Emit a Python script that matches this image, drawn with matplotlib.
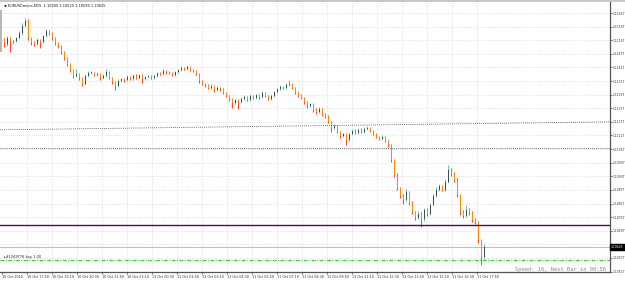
import matplotlib
matplotlib.use("Agg")
import matplotlib.pyplot as plt
from matplotlib.patches import Rectangle
import numpy as np


SYMBOL_HEADER = "EURUSDmicro,M15  1.10605 1.10620 1.10599 1.10625"

FIRST_OPEN = 1.11547
CLOSES = [
    1.11538, 1.11520, 1.11547, 1.11529, 1.11534, 1.11547, 1.11569, 1.11600, 1.11622, 1.11547,
    1.11529, 1.11520, 1.11538, 1.11529, 1.11556, 1.11578, 1.11569, 1.11547, 1.11525, 1.11512,
    1.11485, 1.11459, 1.11432, 1.11406, 1.11380, 1.11388, 1.11371, 1.11344, 1.11380, 1.11393,
    1.11393, 1.11384, 1.11388, 1.11371, 1.11380, 1.11397, 1.11371, 1.11353, 1.11336, 1.11358,
    1.11366, 1.11362, 1.11375, 1.11366, 1.11380, 1.11371, 1.11384, 1.11366, 1.11375, 1.11380,
    1.11371, 1.11380, 1.11393, 1.11388, 1.11402, 1.11397, 1.11393, 1.11384, 1.11397, 1.11406,
    1.11415, 1.11410, 1.11419, 1.11406, 1.11402, 1.11388, 1.11358, 1.11344, 1.11340, 1.11327,
    1.11336, 1.11318, 1.11327, 1.11322, 1.11305, 1.11292, 1.11278, 1.11261, 1.11274, 1.11265,
    1.11278, 1.11287, 1.11274, 1.11292, 1.11283, 1.11296, 1.11287, 1.11305, 1.11292, 1.11278,
    1.11292, 1.11309, 1.11322, 1.11331, 1.11327, 1.11340, 1.11344, 1.11327, 1.11309, 1.11296,
    1.11283, 1.11265, 1.11248, 1.11256, 1.11230, 1.11221, 1.11234, 1.11212, 1.11204, 1.11177,
    1.11151, 1.11160, 1.11133, 1.11116, 1.11124, 1.11098, 1.11124, 1.11138, 1.11129, 1.11142,
    1.11133, 1.11146, 1.11151, 1.11138, 1.11124, 1.11111, 1.11102, 1.11111, 1.11094, 1.11076,
    1.11010, 1.10944, 1.10887, 1.10852, 1.10834, 1.10869, 1.10821, 1.10781, 1.10755, 1.10772,
    1.10750, 1.10790, 1.10772, 1.10812, 1.10852, 1.10878, 1.10896, 1.10878, 1.10913, 1.10966,
    1.10948, 1.10922, 1.10856, 1.10781, 1.10764, 1.10790, 1.10777, 1.10746, 1.10737, 1.10658,
    1.10579, 1.10625,
]
HIGHS = [
    1.11560, 1.11545, 1.11556, 1.11552, 1.11540, 1.11552, 1.11578, 1.11612, 1.11635, 1.11630,
    1.11552, 1.11534, 1.11545, 1.11543, 1.11562, 1.11585, 1.11582, 1.11572, 1.11550, 1.11530,
    1.11516, 1.11490, 1.11463, 1.11437, 1.11410, 1.11410, 1.11392, 1.11375, 1.11388, 1.11402,
    1.11400, 1.11397, 1.11395, 1.11391, 1.11386, 1.11410, 1.11400, 1.11375, 1.11358, 1.11364,
    1.11372, 1.11370, 1.11382, 1.11380, 1.11386, 1.11390, 1.11390, 1.11388, 1.11380, 1.11385,
    1.11384, 1.11386, 1.11398, 1.11397, 1.11410, 1.11406, 1.11402, 1.11396, 1.11402, 1.11412,
    1.11422, 1.11420, 1.11426, 1.11423, 1.11410, 1.11406, 1.11392, 1.11362, 1.11350, 1.11344,
    1.11342, 1.11340, 1.11334, 1.11330, 1.11326, 1.11310, 1.11296, 1.11282, 1.11280, 1.11278,
    1.11285, 1.11294, 1.11290, 1.11298, 1.11296, 1.11302, 1.11300, 1.11312, 1.11308, 1.11296,
    1.11298, 1.11314, 1.11328, 1.11338, 1.11336, 1.11348, 1.11360, 1.11348, 1.11330, 1.11312,
    1.11300, 1.11287, 1.11270, 1.11262, 1.11260, 1.11236, 1.11242, 1.11238, 1.11218, 1.11208,
    1.11182, 1.11166, 1.11164, 1.11138, 1.11130, 1.11128, 1.11130, 1.11144, 1.11146, 1.11150,
    1.11148, 1.11155, 1.11160, 1.11155, 1.11142, 1.11128, 1.11116, 1.11118, 1.11115, 1.11098,
    1.11080, 1.11015, 1.10950, 1.10892, 1.10858, 1.10882, 1.10874, 1.10826, 1.10786, 1.10785,
    1.10778, 1.10798, 1.10796, 1.10820, 1.10860, 1.10890, 1.10904, 1.10900, 1.10925, 1.10988,
    1.10972, 1.10955, 1.10928, 1.10860, 1.10790, 1.10810, 1.10796, 1.10782, 1.10752, 1.10740,
    1.10662, 1.10640,
]
LOWS = [
    1.11520, 1.11505, 1.11512, 1.11485, 1.11520, 1.11528, 1.11542, 1.11562, 1.11594, 1.11538,
    1.11516, 1.11512, 1.11514, 1.11503, 1.11524, 1.11550, 1.11560, 1.11540, 1.11518, 1.11503,
    1.11478, 1.11450, 1.11425, 1.11398, 1.11371, 1.11375, 1.11362, 1.11335, 1.11340, 1.11375,
    1.11386, 1.11378, 1.11378, 1.11360, 1.11366, 1.11375, 1.11366, 1.11345, 1.11318, 1.11330,
    1.11352, 1.11355, 1.11358, 1.11360, 1.11362, 1.11366, 1.11366, 1.11350, 1.11360, 1.11370,
    1.11366, 1.11366, 1.11376, 1.11382, 1.11384, 1.11390, 1.11386, 1.11378, 1.11380, 1.11392,
    1.11400, 1.11404, 1.11405, 1.11400, 1.11396, 1.11382, 1.11350, 1.11338, 1.11332, 1.11320,
    1.11322, 1.11310, 1.11312, 1.11315, 1.11298, 1.11285, 1.11270, 1.11240, 1.11255, 1.11235,
    1.11260, 1.11272, 1.11268, 1.11270, 1.11276, 1.11278, 1.11280, 1.11283, 1.11286, 1.11272,
    1.11274, 1.11288, 1.11304, 1.11318, 1.11320, 1.11322, 1.11336, 1.11320, 1.11302, 1.11288,
    1.11276, 1.11256, 1.11240, 1.11243, 1.11222, 1.11212, 1.11216, 1.11204, 1.11195, 1.11170,
    1.11134, 1.11145, 1.11126, 1.11108, 1.11110, 1.11076, 1.11094, 1.11120, 1.11122, 1.11125,
    1.11126, 1.11128, 1.11140, 1.11132, 1.11118, 1.11104, 1.11095, 1.11098, 1.11088, 1.11068,
    1.11000, 1.10935, 1.10878, 1.10840, 1.10815, 1.10828, 1.10812, 1.10772, 1.10745, 1.10748,
    1.10715, 1.10742, 1.10760, 1.10765, 1.10805, 1.10845, 1.10870, 1.10870, 1.10872, 1.10908,
    1.10940, 1.10910, 1.10845, 1.10768, 1.10755, 1.10758, 1.10768, 1.10735, 1.10728, 1.10645,
    1.10548, 1.10572,
]

PRICE_TICKS = [
    1.11657, 1.11597, 1.11537, 1.11477, 1.11417, 1.11357, 1.11297, 1.11237, 1.11177, 1.11117,
    1.11057, 1.10997, 1.10937, 1.10877, 1.10817, 1.10757, 1.10697, 1.10637, 1.10577, 1.10517,
]
TIME_LABELS = [
    "10 Oct 2016", "10 Oct 17:50", "10 Oct 19:10", "10 Oct 20:30", "10 Oct 21:50",
    "10 Oct 23:10", "11 Oct 00:30", "11 Oct 01:50", "11 Oct 03:10", "11 Oct 04:30",
    "11 Oct 05:50", "11 Oct 07:10", "11 Oct 08:30", "11 Oct 09:50", "11 Oct 11:10",
    "11 Oct 12:30", "11 Oct 13:50", "11 Oct 15:10", "11 Oct 16:30", "11 Oct 17:50",
]

TREND_LINE = (1.11142, 1.11177)
DOTTED_LEVEL = 1.11063
PURPLE_LEVEL = 1.10724
BUY_PRICE = 1.10570
ORDER_LABEL = "#1269776 buy 1.00"
STATUS_TEXT = "Speed: 16, Next Bar in 00:56"


def main() -> None:
    W, H = 625, 281
    fig = plt.figure(figsize=(W / 100, H / 100), dpi=100)
    ax = fig.add_axes([0, 9 / H, 610 / W, 271 / H])
    ax.set_facecolor("white")

    closes = np.array(CLOSES)
    opens = np.concatenate([[FIRST_OPEN], closes[:-1]])
    highs = np.array(HIGHS)
    lows = np.array(LOWS)
    x = np.arange(len(closes))
    up = closes >= opens
    bid = closes[-1]

    # bar spacing is 3 px; 610 px of plot width
    xmax = 610 / 3 - 0.5
    ax.set_xlim(-0.5, xmax)
    ax.set_ylim(1.10515, 1.11710)

    # grid, as in MT4: dotted light gray at tick positions
    tick_x = 0.17 + np.arange(len(TIME_LABELS)) * 25 / 3
    for tx in tick_x[1:]:
        ax.axvline(tx, color="#c8c8c8", lw=0.5, ls=(0, (1, 2)), zorder=0)
    for ty in PRICE_TICKS:
        ax.axhline(ty, color="#c8c8c8", lw=0.5, ls=(0, (1, 2)), zorder=0)

    # candles
    ax.vlines(x[up], lows[up], highs[up], color="#6cc79a", lw=0.75, zorder=2)
    ax.vlines(x[~up], lows[~up], highs[~up], color="#ff4a3a", lw=0.75, zorder=2)
    body_lo = np.minimum(opens, closes)
    body_h = np.maximum(np.abs(closes - opens), 0.00002)
    ax.bar(x[up], body_h[up], bottom=body_lo[up], width=0.62, color="#36504c", lw=0, zorder=3)
    ax.bar(x[~up], body_h[~up], bottom=body_lo[~up], width=0.62, color="#ff8c00", lw=0, zorder=3)

    # objects
    ax.plot([-0.5, xmax], TREND_LINE, color="#404040", lw=0.6, ls=(0, (1, 1.5)), zorder=4)
    ax.axhline(DOTTED_LEVEL, color="#404040", lw=0.6, ls=(0, (1, 1.5)), zorder=4)
    ax.axhline(PURPLE_LEVEL, color="#4b0a55", lw=1.0, zorder=4)
    ax.axhline(bid, color="#c0c0c0", lw=0.8, zorder=1)
    ax.axhline(BUY_PRICE, color="#32cd32", lw=0.7, ls=(0, (4, 1.5, 1, 1.5)), zorder=4)
    ax.text(1.0, BUY_PRICE + 0.00004, "\u25b8" + ORDER_LABEL, fontsize=2.5, color="#222222",
            va="bottom", ha="left", zorder=5)

    # axes styling
    for side in ("top", "left"):
        ax.spines[side].set_visible(False)
    for side in ("right", "bottom"):
        ax.spines[side].set_color("#555555")
        ax.spines[side].set_linewidth(0.9)

    # the bid box covers the price label nearest to it
    ylabels = ["" if abs(p - bid) < 0.0002 else f"{p:.5f}" for p in PRICE_TICKS]
    ax.yaxis.tick_right()
    ax.set_yticks(PRICE_TICKS)
    ax.set_yticklabels(ylabels)
    ax.tick_params(axis="y", length=1.2, width=0.5, pad=0.4, labelsize=2.15,
                   colors="#333333", direction="out")
    ax.set_xticks(tick_x)
    ax.set_xticklabels(TIME_LABELS, ha="left")
    ax.tick_params(axis="x", length=1.5, width=0.5, pad=1, labelsize=2.4,
                   colors="#333333", direction="out")

    # current bid box on the price scale
    ax.text(1.0015, bid, f"{bid:.5f}", transform=ax.get_yaxis_transform(),
            fontsize=2.15, color="white", va="center", ha="left", clip_on=False, zorder=6,
            bbox={"facecolor": "black", "edgecolor": "black", "pad": 0.7})

    # header, side strip and status text
    fig.patches.append(Rectangle((0, 1 - 2 / H), 1, 2 / H, transform=fig.transFigure,
                                 facecolor="#c8c8c8", edgecolor="none"))
    fig.patches.append(Rectangle((0, 1 - 52 / H), 2 / W, 42 / H, transform=fig.transFigure,
                                 facecolor="#b8b8b8", edgecolor="none"))
    fig.text(4 / W, 1 - 6 / H, "\u25bc " + SYMBOL_HEADER, fontsize=2.5, color="#111111",
             va="center", ha="left")
    fig.text(606 / W, 1 - 269 / H, STATUS_TEXT, fontsize=3.9, color="#888888",
             family="DejaVu Sans Mono", va="center", ha="right")

    fig.savefig("out.png", dpi=100, facecolor="white")
    plt.close(fig)


if __name__ == "__main__":
    main()
